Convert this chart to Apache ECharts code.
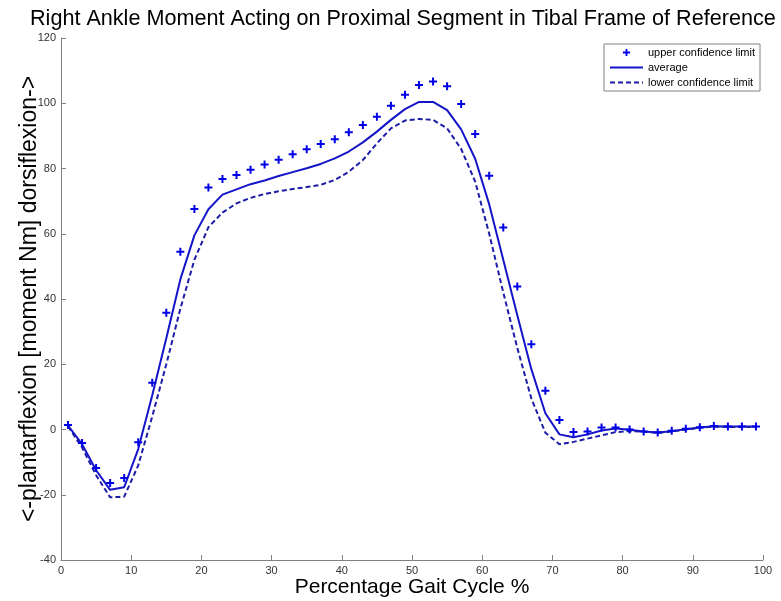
<!DOCTYPE html>
<html>
<head>
<meta charset="utf-8">
<script src="https://cdn.jsdelivr.net/npm/echarts@6/dist/echarts.min.js"></script>
<style>
html,body{margin:0;padding:0;background:#fff;}
#chart{width:781px;height:601px;}
</style>
</head>
<body>
<div id="chart"></div>
<script>
// Gait cycle percentages (sample points)
var gaitPct = [1,3,5,7,9,11,13,15,17,19,21,23,25,27,29,31,33,35,37,39,41,43,45,47,49,51,53,55,57,59,61,63,65,67,69,71,73,75,77,79,81,83,85,87,89,91,93,95,97,99];

var upperLimit = [1.4,-4.1,-11.8,-16.4,-14.9,-3.9,14.3,35.8,54.5,67.6,74.2,76.8,78.0,79.6,81.2,82.7,84.4,85.9,87.5,89.0,91.1,93.3,95.9,99.2,102.6,105.6,106.7,105.2,99.8,90.6,77.8,61.9,43.8,26.1,11.9,2.9,-0.8,-0.6,0.6,0.6,0.0,-0.6,-0.9,-0.4,0.2,0.7,1.1,0.9,0.9,0.9];

var average = [1.2,-4.5,-12.5,-18.5,-17.7,-6.0,10.5,28.0,46.0,59.5,67.5,72.0,73.6,75.2,76.3,77.7,78.9,80.1,81.4,83.1,85.2,88.0,91.3,94.9,98.2,100.4,100.4,97.9,92.0,83.0,69.0,52.0,35.0,18.5,5.0,-1.5,-2.4,-1.5,-0.3,0.3,-0.1,-0.6,-0.9,-0.5,0.1,0.6,1.0,0.9,0.9,0.9];

var lowerLimit = [1.0,-5.5,-14.0,-20.8,-20.6,-11.0,4.0,20.0,37.0,52.0,62.0,66.5,69.3,71.0,72.2,73.0,73.7,74.3,75.0,76.5,79.0,82.6,87.7,92.3,94.7,95.2,94.9,92.3,86.0,76.0,60.0,42.0,25.0,9.5,-1.0,-4.5,-3.8,-2.8,-1.8,-0.8,-0.5,-0.7,-1.0,-0.6,0.0,0.5,0.9,0.8,0.8,0.8];

var seriesNames = ['upper confidence limit','average','lower confidence limit'];

function pairs(xs, ys){ return xs.map(function(x,i){ return [x, ys[i]]; }); }

var plus = 'path://M3,0H5V3H8V5H5V8H3V5H0V3H3Z';
var font = 'Liberation Sans, Arial, sans-serif';

var chart = echarts.init(document.getElementById('chart'), null, {renderer:'canvas'});
chart.setOption({
  animation:false,
  backgroundColor:'#ffffff',
  title:{
    text:'Right Ankle Moment Acting on Proximal Segment in Tibal Frame of Reference',
    left:25, top:3,
    textStyle:{fontFamily:font, fontSize:21.6, fontWeight:'normal', color:'#000'}
  },
  legend:{
    orient:'vertical', right:21, top:44,
    backgroundColor:'#fff', borderColor:'#808080', borderWidth:1,
    padding:[3,5,3,5], itemGap:4, itemWidth:33, itemHeight:9,
    textStyle:{fontFamily:font, fontSize:11, color:'#000'},
    data:[
      {name:seriesNames[0]},
      {name:seriesNames[1], itemStyle:{opacity:0}},
      {name:seriesNames[2], itemStyle:{opacity:0}}
    ]
  },
  grid:{left:61, right:18, top:38, bottom:41, containLabel:false, outerBoundsMode:'none'},
  xAxis:{
    type:'value', min:0, max:100, interval:10,
    name:'Percentage Gait Cycle %', nameLocation:'middle', nameGap:17, nameMoveOverlap:false,
    nameTextStyle:{fontFamily:font, fontSize:21, color:'#000', verticalAlign:'top'},
    axisLine:{show:true, onZero:false, lineStyle:{color:'#808080', width:1}},
    axisTick:{show:true, inside:true, length:5, lineStyle:{color:'#808080'}},
    axisLabel:{fontFamily:font, fontSize:11, color:'#333', margin:5},
    splitLine:{show:false}
  },
  yAxis:{
    type:'value', min:-40, max:120, interval:20,
    name:'<-plantarflexion [moment Nm] dorsiflexion->', nameLocation:'middle', nameGap:20, nameMoveOverlap:false,
    nameTextStyle:{fontFamily:font, fontSize:23, color:'#000'},
    axisLine:{show:true, onZero:false, lineStyle:{color:'#808080', width:1}},
    axisTick:{show:true, inside:true, length:5, lineStyle:{color:'#808080'}},
    axisLabel:{fontFamily:font, fontSize:11, color:'#333', margin:5},
    splitLine:{show:false}
  },
  series:[
    {
      name:seriesNames[0], type:'line', data:pairs(gaitPct, upperLimit),
      symbol:plus, symbolSize:8, showSymbol:true, showAllSymbol:true,
      itemStyle:{color:'#0000e6'},
      lineStyle:{width:0, opacity:0}, z:3
    },
    {
      name:seriesNames[1], type:'line', data:pairs(gaitPct, average),
      symbol:'none', lineStyle:{color:'#1414c8', width:2, type:'solid'},
      itemStyle:{color:'#1414c8'}
    },
    {
      name:seriesNames[2], type:'line', data:pairs(gaitPct, lowerLimit),
      symbol:'none', lineStyle:{color:'#1c1ca8', width:2, type:[5,3]},
      itemStyle:{color:'#1c1ca8'}
    }
  ]
});
</script>
</body>
</html>
